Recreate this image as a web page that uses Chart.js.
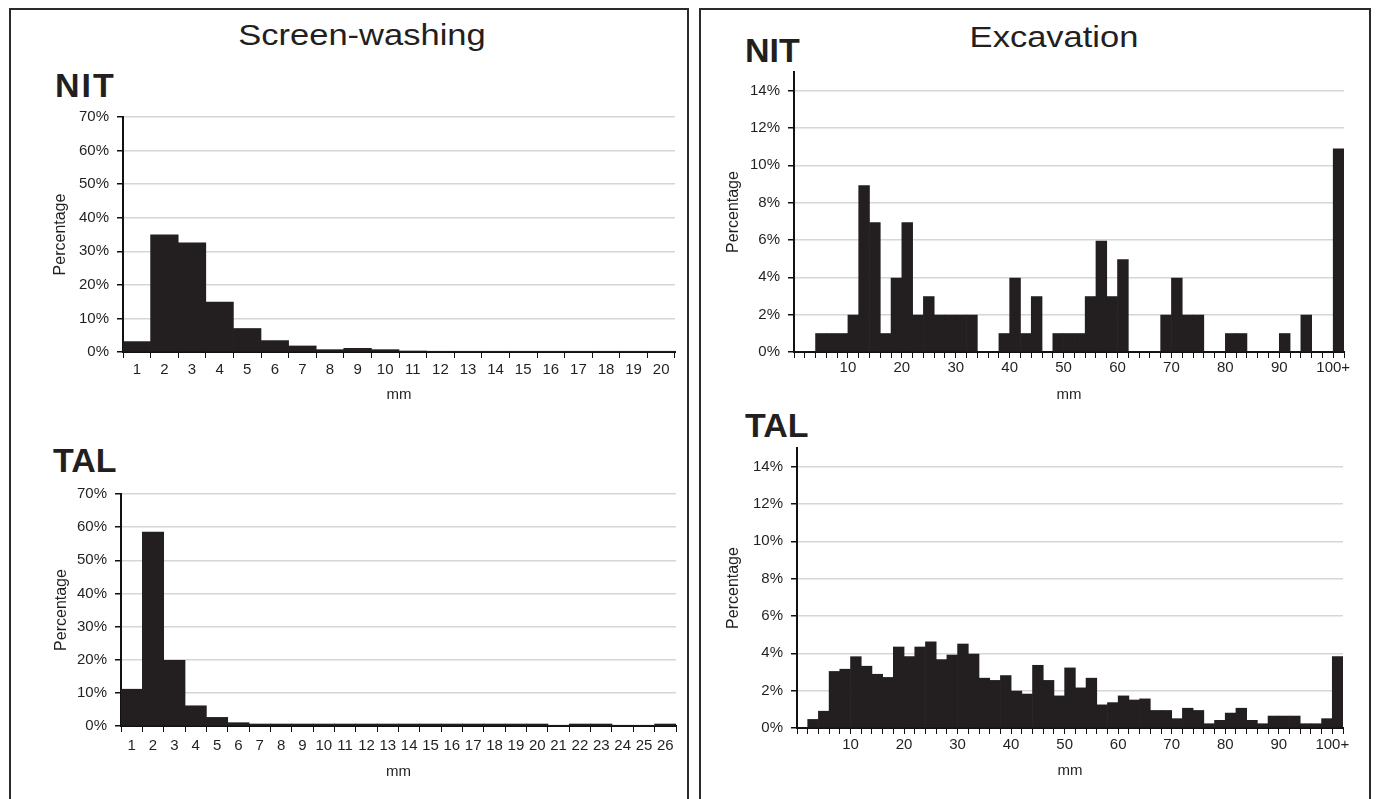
<!DOCTYPE html>
<html>
<head>
<meta charset="utf-8">
<script src="https://cdn.jsdelivr.net/npm/chart.js@4.4.1/dist/chart.umd.min.js"></script>
<style>
  body { margin: 0; background: #fff; width: 1379px; height: 799px; overflow: hidden; position: relative;
         font-family: 'Liberation Sans', Arial, sans-serif; color: #231f20; }
  .panel { position: absolute; top: 8px; height: 800px; border: 2px solid #2b2b2b; border-bottom: none; box-sizing: border-box; }
  .head { position: absolute; font-size: 30px; transform: translate(-50%, -50%) scaleX(1.15); white-space: nowrap; }
  .tag { position: absolute; font-size: 34px; font-weight: bold; transform: translateY(-50%); }
  canvas { position: absolute; }
</style>
</head>
<body>
<div class="panel" style="left:9px; width:680px;"></div>
<div class="panel" style="left:699px; width:672px;"></div>

<div class="head" style="left:362px; top:35px;">Screen-washing</div>
<div class="head" style="left:1054px; top:37px;">Excavation</div>
<div class="tag" style="left:55px; top:85px; letter-spacing:2px;">NIT</div>
<div class="tag" style="left:53px; top:460px;">TAL</div>
<div class="tag" style="left:745px; top:50px;">NIT</div>
<div class="tag" style="left:745px; top:425px;">TAL</div>

<canvas id="swNit" width="670" height="310" style="left:20px; top:100px;"></canvas>
<canvas id="swTal" width="671" height="314" style="left:20px; top:470px;"></canvas>
<canvas id="exNit" width="660" height="355" style="left:700px; top:55px;"></canvas>
<canvas id="exTal" width="659" height="356" style="left:700px; top:430px;"></canvas>

<script>
// screen-washing: size classes (mm) and percentages
const swNitSizes = ['1','2','3','4','5','6','7','8','9','10','11','12','13','14','15','16','17','18','19','20'];
const swNitPct = [3.1, 34.9, 32.5, 14.9, 7.0, 3.4, 1.8, 0.7, 1.1, 0.7, 0.3, 0.2, 0.15, 0.15, 0.15, 0.15, 0.15, 0.15, 0.15, 0.15];

const swTalSizes = ['1','2','3','4','5','6','7','8','9','10','11','12','13','14','15','16','17','18','19','20','21','22','23','24','25','26'];
const swTalPct = [11.1, 58.5, 19.8, 6.1, 2.6, 1.0, 0.6, 0.6, 0.6, 0.6, 0.6, 0.6, 0.6, 0.6, 0.6, 0.6, 0.6, 0.6, 0.6, 0.6, 0.2, 0.6, 0.6, 0.2, 0.2, 0.6];

// excavation: 2 mm bins (lower bound, last one is 100+)
const exBins = [0,2,4,6,8,10,12,14,16,18,20,22,24,26,28,30,32,34,36,38,40,42,44,46,48,
                50,52,54,56,58,60,62,64,66,68,70,72,74,76,78,80,82,84,86,88,90,92,94,96,98,100];
const exNitPct = [0, 0, 0.99, 0.99, 0.99, 1.98, 8.91, 6.93, 0.99, 3.96,
                  6.93, 1.98, 2.97, 1.98, 1.98, 1.98, 1.98, 0, 0, 0.99,
                  3.96, 0.99, 2.97, 0, 0.99, 0.99, 0.99, 2.97, 5.94, 2.97,
                  4.95, 0, 0, 0, 1.98, 3.96, 1.98, 1.98, 0, 0,
                  0.99, 0.99, 0, 0, 0, 0.99, 0, 1.98, 0, 0, 10.89];
const exTalPct = [0, 0.46, 0.9, 3.03, 3.15, 3.82, 3.31, 2.88, 2.71, 4.34,
                  3.82, 4.34, 4.62, 3.66, 3.91, 4.5, 3.96, 2.67, 2.55, 2.81,
                  1.98, 1.82, 3.36, 2.55, 1.72, 3.22, 2.15, 2.67, 1.24, 1.36,
                  1.72, 1.5, 1.56, 0.94, 0.94, 0.5, 1.06, 0.94, 0.23, 0.41,
                  0.8, 1.06, 0.41, 0.23, 0.64, 0.64, 0.64, 0.23, 0.23, 0.5, 3.82];
const exTickLabels = {10: '10', 20: '20', 30: '30', 40: '40', 50: '50', 60: '60', 70: '70', 80: '80', 90: '90', 100: '100+'};

Chart.defaults.font.family = "'Liberation Sans', Arial, sans-serif";
Chart.defaults.font.size = 15;
Chart.defaults.color = '#231f20';

const BAR = '#231f20';

function yAxis(max, step, width, titlePad) {
  return {
    min: 0, max: max,
    ticks: { stepSize: step, includeBounds: false, padding: 8, callback: v => v + '%' },
    grid: { color: '#d6d6d6', lineWidth: 1.5, tickColor: '#111', tickLength: 6 },
    border: { color: '#111', width: 2 },
    title: { display: true, text: 'Percentage', font: { size: 16 }, padding: { top: titlePad } },
    afterFit: s => { s.width = width; }
  };
}

function xTitle(pad) {
  return { display: true, text: 'mm', font: { size: 15 }, padding: { top: 0, bottom: pad } };
}

function commonOpts(pad) {
  return {
    responsive: false,
    animation: false,
    layout: { padding: pad },
    plugins: { legend: { display: false }, tooltip: { enabled: false } }
  };
}

function screenChart(id, sizes, pct, pad, yW, tPad, xPad, lPad) {
  const o = commonOpts(pad);
  o.scales = {
    x: {
      type: 'category',
      offset: true,
      grid: { offset: true, drawOnChartArea: false, tickColor: '#111', tickLength: 6 },
      border: { color: '#111', width: 2 },
      ticks: { padding: lPad, autoSkip: false, maxRotation: 0 },
      title: xTitle(xPad),
      afterFit: s => { s.height = 58; }
    },
    y: yAxis(70, 10, yW, tPad)
  };
  new Chart(document.getElementById(id), {
    type: 'bar',
    data: { labels: sizes, datasets: [{ data: pct, backgroundColor: BAR, barPercentage: 1, categoryPercentage: 1 }] },
    options: o
  });
}

function excavationChart(id, pct, pad, yW, tPad, xPad, lPad) {
  const o = commonOpts(pad);
  o.scales = {
    x: {
      type: 'linear',
      min: 0, max: 102,
      offset: false,
      grid: { offset: false, drawOnChartArea: false, tickColor: '#111', tickLength: 6 },
      border: { color: '#111', width: 2 },
      ticks: { stepSize: 2, padding: lPad, autoSkip: false, maxRotation: 0,
               callback: v => exTickLabels[v] || '' },
      title: xTitle(xPad),
      afterFit: s => { s.height = 58; }
    },
    y: yAxis(15, 2, yW, tPad)
  };
  // each bar spans its 2 mm bin, centred one unit past the lower bound
  const pts = exBins.map((b, i) => ({ x: b + 1, y: pct[i] }));
  new Chart(document.getElementById(id), {
    type: 'bar',
    data: { datasets: [{ data: pts, backgroundColor: BAR, barPercentage: 1, categoryPercentage: 1 }] },
    options: o
  });
}

screenChart('swNit', swNitSizes, swNitPct, { top: 17, left: 0, right: 15, bottom: 0 }, 103, 31, 6, 3);
screenChart('swTal', swTalSizes, swTalPct, { top: 24, left: 0, right: 15, bottom: 0 }, 101, 32, 3, 5);
excavationChart('exNit', exNitPct, { top: 16, left: 0, right: 16, bottom: 0 }, 94, 24, 6, 1);
excavationChart('exTal', exTalPct, { top: 18, left: 0, right: 16, bottom: 0 }, 97, 24, 6, 2);
</script>
</body>
</html>
